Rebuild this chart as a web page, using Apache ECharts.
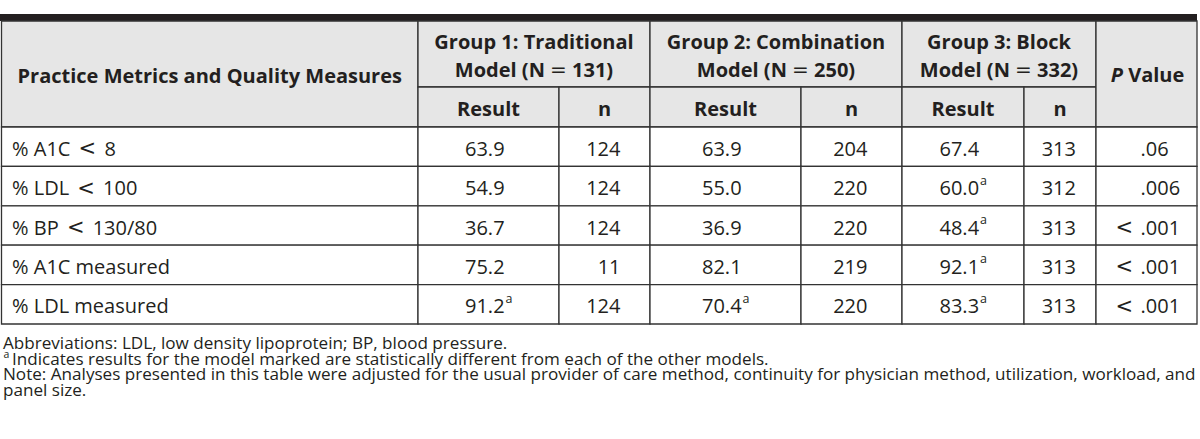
<!DOCTYPE html>
<html><head><meta charset="utf-8">
<script src="https://cdn.jsdelivr.net/npm/echarts@6/dist/echarts.min.js"></script>
<style>html,body{margin:0;padding:0;background:#fff}#c{width:1200px;height:439px}</style>
</head><body><div id="c"></div>
<script>
// ---- data ----
const metrics = ['% A1C < 8', '% LDL < 100', '% BP < 130/80', '% A1C measured', '% LDL measured'];
const g1Result = [63.9, 54.9, 36.7, 75.2, 91.2];
const g1Sig    = [false, false, false, false, true];
const g1N      = [124, 124, 124, 11, 124];
const g2Result = [63.9, 55.0, 36.9, 82.1, 70.4];
const g2Sig    = [false, false, false, false, true];
const g2N      = [204, 220, 220, 219, 220];
const g3Result = [67.4, 60.0, 48.4, 92.1, 83.3];
const g3Sig    = [false, true, true, true, true];
const g3N      = [313, 312, 313, 313, 313];
const pValues  = ['.06', '.006', '< .001', '< .001', '< .001'];
const firstHeader = 'Practice Metrics and Quality Measures';
const groupTitles = ['Group 1: Traditional', 'Group 2: Combination', 'Group 3: Block'];
const groupNs = [131, 250, 332];
const subHeaders = ['Result', 'n'];
const pHeader = 'Value';
const footnoteMarks = ['', 'a', '', ''];
const footnotes = [
  'Abbreviations: LDL, low density lipoprotein; BP, blood pressure.',
  'Indicates results for the model marked are statistically different from each of the other models.',
  'Note: Analyses presented in this table were adjusted for the usual provider of care method, continuity for physician method, utilization, workload, and',
  'panel size.'
];

// ---- layout / style ----
const COLS = [1.5, 418, 559, 650, 801, 902, 1024, 1096, 1197];
const BAR_TOP = 14, HEAD_TOP = 21, HEAD_MID = 87, HEAD_BOT = 127, ROW_H = 39.4;
const NOTE_Y = 342.5, NOTE_STEP = 15.6;
const LINE = '#333333', TXT = '#231f20', HEAD_BG = '#e6e6e6';
const FONT = '"Open Sans", sans-serif';
const FS = 20, FN_FS = 17.1;
const richBase = {
  lt: { fontFamily: 'DejaVu Sans', fontSize: 21, fill: TXT, padding: [0, 3, 0, 3] },
  eq: { fontFamily: 'DejaVu Sans', fontSize: 20, fill: TXT },
  sup: { fontFamily: FONT, fontSize: 12.5, fill: TXT, verticalAlign: 'top', padding: [0, 0, 9, 1] }
};
function mathify(s) { return s.replace(/</g, '{lt|<}').replace(/=/g, '{eq|=}'); }
function txt(x, y, text, opt) {
  opt = opt || {};
  return {
    type: 'text', x: x, y: y,
    style: {
      text: text, fill: TXT, fontFamily: FONT, fontSize: opt.fs || FS,
      fontWeight: opt.bold ? 'bold' : 'normal', fontStyle: opt.italic ? 'italic' : 'normal',
      align: opt.align || 'center', verticalAlign: 'middle', lineHeight: opt.lh || 28,
      rich: opt.rich || richBase
    }
  };
}
function cellRect(api, x0, y0, x1, y1, fill, lw) {
  const a = api.coord([x0, y0]), b = api.coord([x1, y1]);
  return { type: 'rect', shape: { x: a[0], y: a[1], width: b[0] - a[0], height: b[1] - a[1] },
    style: { fill: fill, stroke: LINE, lineWidth: lw || 1.3 } };
}
function fmtRes(v, sig) { return v.toFixed(1) + (sig ? '{sup|a}' : ''); }

function renderHeader(params, api) {
  const ch = [];
  const b0 = api.coord([0, BAR_TOP]), b1 = api.coord([COLS[COLS.length - 1], HEAD_TOP]);
  ch.push({ type: 'rect', shape: { x: b0[0], y: b0[1], width: b1[0] - b0[0], height: b1[1] - b0[1] }, style: { fill: '#231f20' } });
  ch.push(cellRect(api, COLS[0], HEAD_TOP, COLS[1], HEAD_BOT, HEAD_BG));
  for (let g = 0; g < 3; g++) {
    const x0 = COLS[1 + g * 2], xm = COLS[2 + g * 2], x1 = COLS[3 + g * 2];
    ch.push(cellRect(api, x0, HEAD_TOP, x1, HEAD_MID, HEAD_BG));
    ch.push(cellRect(api, x0, HEAD_MID, xm, HEAD_BOT, HEAD_BG));
    ch.push(cellRect(api, xm, HEAD_MID, x1, HEAD_BOT, HEAD_BG));
  }
  ch.push(cellRect(api, COLS[7], HEAD_TOP, COLS[8], HEAD_BOT, HEAD_BG));
  let p = api.coord([(COLS[0] + COLS[1]) / 2, (HEAD_TOP + HEAD_BOT) / 2 + 1]);
  ch.push(txt(p[0], p[1], firstHeader, { bold: true }));
  for (let g = 0; g < 3; g++) {
    const x0 = COLS[1 + g * 2], xm = COLS[2 + g * 2], x1 = COLS[3 + g * 2];
    p = api.coord([(x0 + x1) / 2, (HEAD_TOP + HEAD_MID) / 2 + 1.5]);
    ch.push(txt(p[0], p[1], groupTitles[g] + '\n' + mathify('Model (N = ' + groupNs[g] + ')'), { bold: true, lh: 27.5 }));
    p = api.coord([(x0 + xm) / 2, (HEAD_MID + HEAD_BOT) / 2 + 1]);
    ch.push(txt(p[0], p[1], subHeaders[0], { bold: true }));
    p = api.coord([(xm + x1) / 2, (HEAD_MID + HEAD_BOT) / 2 + 1]);
    ch.push(txt(p[0], p[1], subHeaders[1], { bold: true }));
  }
  p = api.coord([(COLS[7] + COLS[8]) / 2 + 1, (HEAD_TOP + HEAD_BOT) / 2 + 0.5]);
  ch.push(txt(p[0], p[1], '{it|P} ' + pHeader, { bold: true, rich: { it: { fontFamily: FONT, fontSize: FS, fontWeight: 'bold', fontStyle: 'italic', fill: TXT } } }));
  return { type: 'group', children: ch };
}

function renderRow(params, api) {
  const i = api.value(0);
  const y0 = HEAD_BOT + i * ROW_H, y1 = y0 + ROW_H, ym = (y0 + y1) / 2 + 1.5;
  const ch = [];
  for (let c = 0; c < COLS.length - 1; c++) ch.push(cellRect(api, COLS[c], y0, COLS[c + 1], y1, '#ffffff'));
  const res = [[g1Result, g1Sig], [g2Result, g2Sig], [g3Result, g3Sig]];
  const ns = [g1N, g2N, g3N];
  let p = api.coord([COLS[0] + 10.5, ym]);
  ch.push(txt(p[0], p[1], mathify(metrics[i]), { align: 'left' }));
  for (let g = 0; g < 3; g++) {
    const x0 = COLS[1 + g * 2], xm = COLS[2 + g * 2], x1 = COLS[3 + g * 2];
    p = api.coord([(x0 + xm) / 2 - 23.5, ym]);
    ch.push(txt(p[0], p[1], fmtRes(res[g][0][i], res[g][1][i]), { align: 'left' }));
    p = api.coord([(xm + x1) / 2 + 16, ym]);
    ch.push(txt(p[0], p[1], String(ns[g][i]), { align: 'right' }));
  }
  const pv = pValues[i];
  const num = pv.replace(/^<\s*/, '');
  p = api.coord([1140.5, ym]);
  ch.push(txt(p[0], p[1], num, { align: 'left' }));
  if (pv.charAt(0) === '<') {
    p = api.coord([1136, ym]);
    ch.push(txt(p[0], p[1], '{lt|<}', { align: 'right' }));
  }
  return { type: 'group', children: ch };
}

function renderNote(params, api) {
  const i = api.value(0);
  const y = NOTE_Y + i * NOTE_STEP;
  const ch = [];
  const mark = footnoteMarks[i];
  let p = api.coord([mark ? 12 : 3, y]);
  ch.push(txt(p[0], p[1], footnotes[i], { align: 'left', fs: FN_FS, lh: 15.4 }));
  if (mark) {
    p = api.coord([3.5, y - 4.5]);
    ch.push(txt(p[0], p[1], mark, { align: 'left', fs: 10.5, lh: 6 }));
  }
  return { type: 'group', children: ch };
}

const chart = echarts.init(document.getElementById('c'), null, { renderer: 'svg' });
chart.setOption({
  animation: false,
  grid: { left: 0, right: 0, top: 0, bottom: 0 },
  xAxis: { type: 'value', min: 0, max: 1200, show: false },
  yAxis: { type: 'value', min: 0, max: 439, inverse: true, show: false },
  series: [
    { type: 'custom', name: 'header', renderItem: renderHeader, data: [[0, 0]], silent: true, clip: false },
    { type: 'custom', name: 'rows', renderItem: renderRow, data: metrics.map((m, i) => [i, i]), silent: true, clip: false },
    { type: 'custom', name: 'notes', renderItem: renderNote, data: footnotes.map((f, i) => [i, i]), silent: true, clip: false }
  ]
});
</script></body></html>
